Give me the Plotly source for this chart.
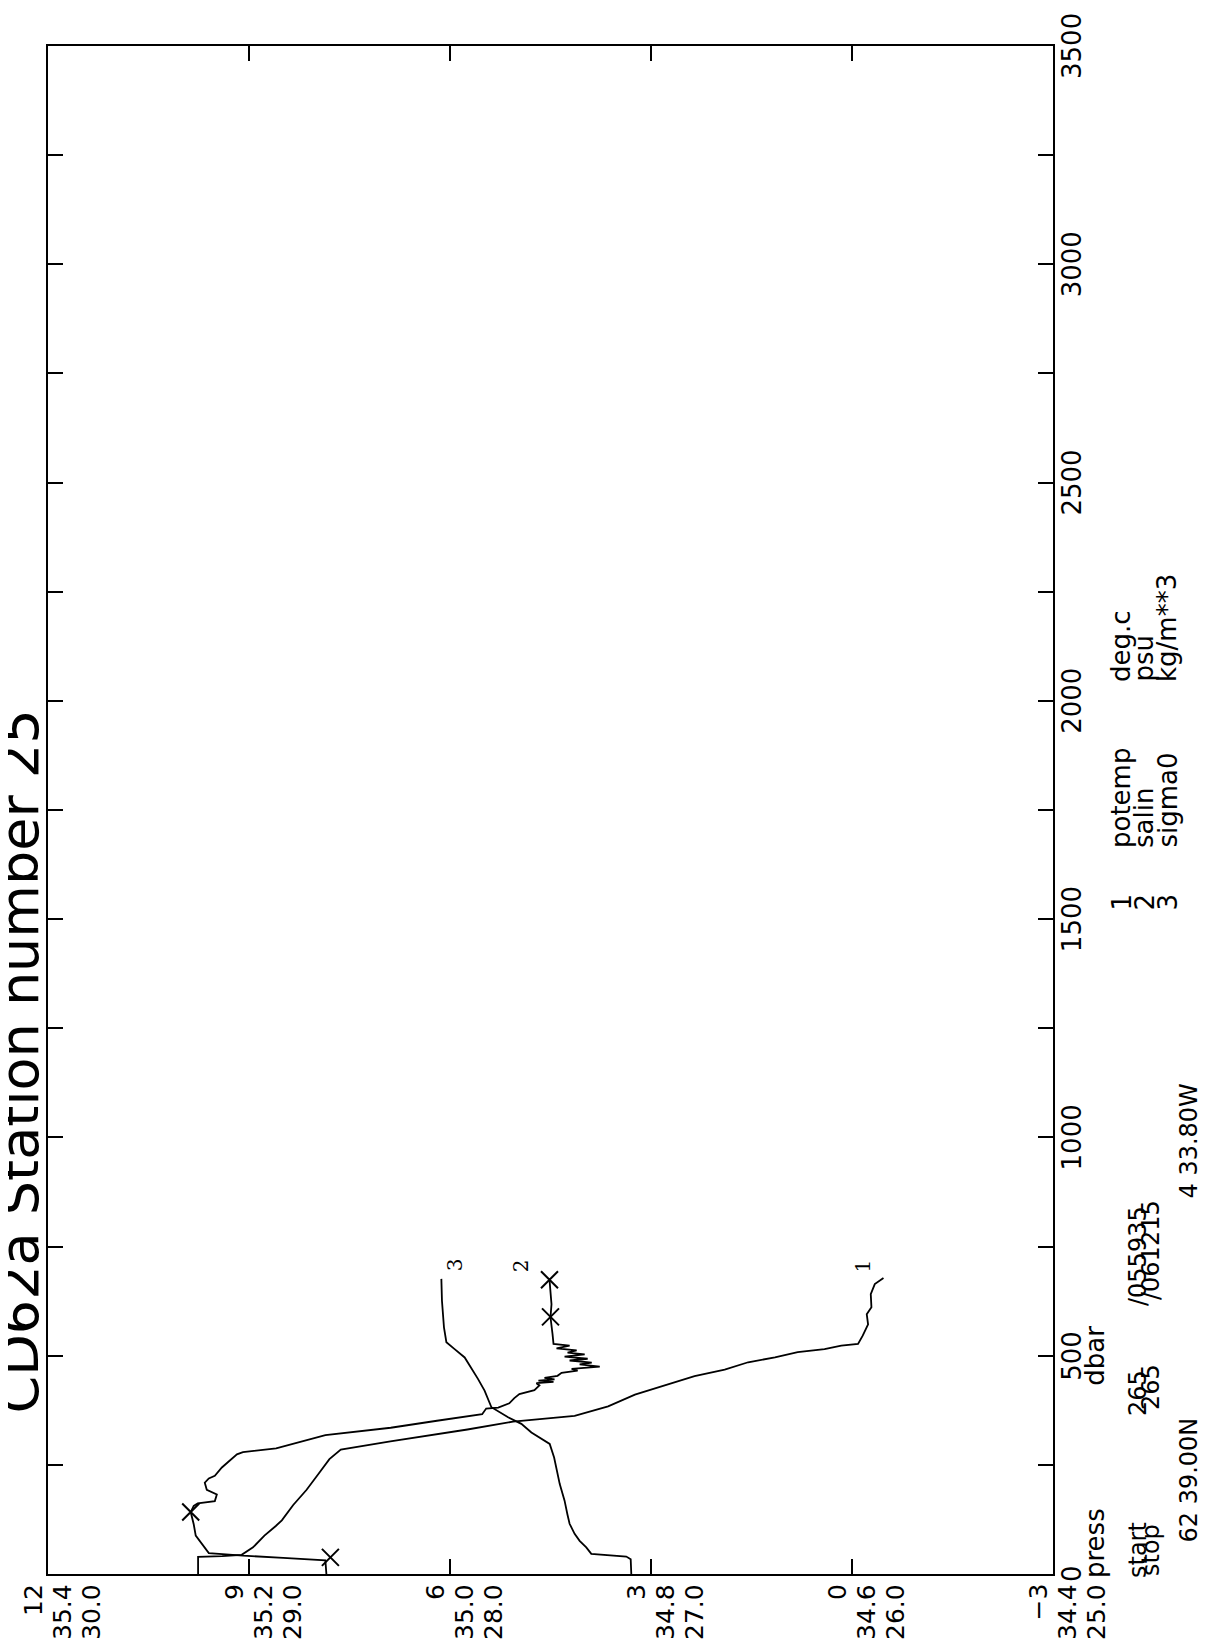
import plotly.graph_objects as go

# ---------------- data ----------------
# potential temperature (deg.c) vs pressure (dbar)
press_T = [0, 39, 41, 44, 61, 88, 110, 123, 158, 193, 228, 263, 285, 304, 331,
           349, 362, 384, 411, 430, 453, 468, 485, 496, 508, 515, 523, 527, 546,
           572, 595, 611, 641, 664, 678]
potemp = [9.76, 9.76, 9.40, 9.11, 8.94, 8.77, 8.60, 8.51, 8.34, 8.14, 7.97, 7.80,
          7.63, 6.89, 5.74, 5.06, 4.14, 3.64, 3.24, 2.85, 2.35, 1.90, 1.55, 1.15,
          0.81, 0.41, 0.16, -0.09, -0.16, -0.24, -0.22, -0.29, -0.28, -0.34, -0.47]

# salinity (psu) vs pressure (dbar)
press_S = [0, 31, 37, 42, 48, 66, 88, 114, 142, 156, 162, 167, 182, 193, 209, 219,
           225, 244, 261, 274, 279, 288, 318, 335, 351, 366, 379, 381, 391, 403,
           412, 421, 432, 437, 440, 443, 446, 449, 454, 461, 466, 470, 475, 480,
           484, 489, 493, 498, 503, 507, 512, 517, 523, 527, 550, 588, 618, 645, 674]
salin = [35.123, 35.124, 35.166, 35.206, 35.240, 35.246, 35.253, 35.255, 35.258,
         35.255, 35.251, 35.234, 35.232, 35.242, 35.244, 35.240, 35.234, 35.227,
         35.219, 35.212, 35.206, 35.173, 35.124, 35.059, 35.013, 34.968, 34.964,
         34.952, 34.941, 34.936, 34.931, 34.916, 34.911, 34.914, 34.897, 34.912,
         34.896, 34.906, 34.893, 34.889, 34.873, 34.879, 34.851, 34.871, 34.859,
         34.881, 34.863, 34.886, 34.866, 34.883, 34.874, 34.894, 34.881, 34.897,
         34.898, 34.900, 34.899, 34.900, 34.901]

# bottle salinity samples (x marks)
press_bottle = [38, 142, 589, 674]
salin_bottle = [35.119, 35.258, 34.900, 34.901]

# sigma0 (kg/m**3) vs pressure (dbar)
press_D = [0, 34, 40, 46, 61, 76, 92, 115, 137, 168, 206, 244, 267, 298, 309, 324,
           344, 359, 382, 420, 447, 466, 496, 515, 531, 565, 626, 676]
sigma0 = [27.098, 27.101, 27.123, 27.297, 27.322, 27.355, 27.380, 27.405, 27.416,
          27.430, 27.454, 27.471, 27.482, 27.504, 27.545, 27.595, 27.645, 27.711,
          27.794, 27.828, 27.861, 27.886, 27.927, 27.977, 28.018, 28.030, 28.040,
          28.043]

# axis tick values / labels
T_ticks = [12, 9, 6, 3, 0, -3]
S_ticks = [35.4, 35.2, 35.0, 34.8, 34.6, 34.4]
D_ticks = [30.0, 29.0, 28.0, 27.0, 26.0, 25.0]
P_ticks = [0, 500, 1000, 1500, 2000, 2500, 3000, 3500]

title_text = "CD62a Station number 25"
legend_nums = ["1", "2", "3"]
legend_names = ["potemp", "salin", "sigma0"]
legend_units = ["deg.c", "psu", "kg/m**3"]
info_start = ["start", "265", "/055935"]
info_stop = ["stop", "265", "/061215"]
info_pos = ["62 39.00N", "4 33.80W"]

# ---------------- layout geometry ----------------
W, H = 1206, 1649
L, R, T, B = 40, 1045, 38, 1566
PW, PH = R - L, B - T
FONT = "DejaVu Sans"


def px(xp):
    return (xp - L) / PW


def py(yp):
    return (B - yp) / PH


fig = go.Figure()
line_style = dict(color="black", width=1.8)
fig.add_trace(go.Scatter(x=potemp, y=press_T, xaxis="x", yaxis="y", mode="lines",
                         line=line_style, name="potemp"))
fig.add_trace(go.Scatter(x=salin, y=press_S, xaxis="x2", yaxis="y", mode="lines",
                         line=line_style, name="salin"))
fig.add_trace(go.Scatter(x=salin_bottle, y=press_bottle, xaxis="x2", yaxis="y",
                         mode="markers", name="bottle",
                         marker=dict(symbol="x-thin-open", size=17, color="black",
                                     line=dict(color="black", width=2))))
fig.add_trace(go.Scatter(x=sigma0, y=press_D, xaxis="x3", yaxis="y", mode="lines",
                         line=line_style, name="sigma0"))

ann = []


def rot(text, x, y, xref, yref, xanchor, yanchor, size, xshift=0, yshift=0,
        family=FONT):
    ann.append(dict(text=text, x=x, y=y, xref=xref, yref=yref, xanchor=xanchor,
                    yanchor=yanchor, textangle=-90, showarrow=False,
                    xshift=xshift, yshift=yshift,
                    font=dict(family=family, size=size, color="black")))


# value-axis labels (three rows under the bottom axis)
for v in T_ticks:
    rot(("\u2212" + str(abs(v))) if v < 0 else str(v), v, 0, "x", "paper",
        "center", "top", 25, xshift=-15, yshift=-8)
for v in S_ticks:
    rot(f"{v:.1f}", v, 0, "x2", "paper", "center", "top", 25, xshift=14, yshift=-8)
for v in D_ticks:
    rot(f"{v:.1f}", v, 0, "x3", "paper", "center", "top", 25, xshift=43, yshift=-8)

# pressure labels on the right side
for p in P_ticks:
    rot(str(p), 1, p, "paper", "y", "left", "middle", 26, xshift=2)
rot("press", px(1087), py(1572), "paper", "paper", "center", "bottom", 26)
rot("dbar", px(1087), 500, "paper", "y", "center", "middle", 26)

# station info
rot(info_start[0], px(1130), py(1572), "paper", "paper", "center", "bottom", 24)
rot(info_start[1], px(1130), py(1410), "paper", "paper", "center", "bottom", 24)
rot(info_start[2], px(1130), py(1300), "paper", "paper", "center", "bottom", 24)
rot(info_stop[0], px(1143), py(1570), "paper", "paper", "center", "bottom", 24)
rot(info_stop[1], px(1143), py(1404), "paper", "paper", "center", "bottom", 24)
rot(info_stop[2], px(1143), py(1294), "paper", "paper", "center", "bottom", 24)
rot(info_pos[0], px(1180), py(1537), "paper", "paper", "center", "bottom", 24)
rot(info_pos[1], px(1180), py(1193), "paper", "paper", "center", "bottom", 24)

# legend block
for i, xc in enumerate([1113, 1136, 1159]):
    rot(legend_nums[i], px(xc), py(905), "paper", "paper", "center", "bottom", 26)
    rot(legend_names[i], px(xc), py(842), "paper", "paper", "center", "bottom", 26)
    rot(legend_units[i], px(xc), py(676), "paper", "paper", "center", "bottom", 26)

# curve end labels
rot("1", potemp[-1], press_T[-1], "x", "y", "center", "middle", 20, xshift=-20,
    yshift=12, family="DejaVu Serif")
rot("2", salin[-1], press_S[-1], "x2", "y", "center", "middle", 20, xshift=-29,
    yshift=14, family="DejaVu Serif")
rot("3", sigma0[-1], press_D[-1], "x3", "y", "center", "middle", 20, xshift=14,
    yshift=14, family="DejaVu Serif")

# title (glyph tops touch the left edge, as in the scan)
rot(title_text, 0, py(1408), "paper", "paper", "right", "bottom", 54, xshift=4)

axis_common = dict(showgrid=False, zeroline=False, showline=True, linecolor="black",
                   linewidth=2, mirror="ticks", ticks="inside", ticklen=15,
                   tickwidth=1.5, tickcolor="black", showticklabels=False)

fig.update_layout(
    width=W, height=H, paper_bgcolor="white", plot_bgcolor="white",
    margin=dict(l=L, r=W - R, t=T, b=H - B, pad=0),
    showlegend=False,
    xaxis=dict(range=[12, -3], tickvals=T_ticks, **axis_common),
    xaxis2=dict(range=[35.4, 34.4], overlaying="x", visible=False),
    xaxis3=dict(range=[30, 25], overlaying="x", visible=False),
    yaxis=dict(range=[0, 3500], tickvals=list(range(0, 3501, 250)), **axis_common),
    annotations=ann,
)

fig.write_html("out.html")
